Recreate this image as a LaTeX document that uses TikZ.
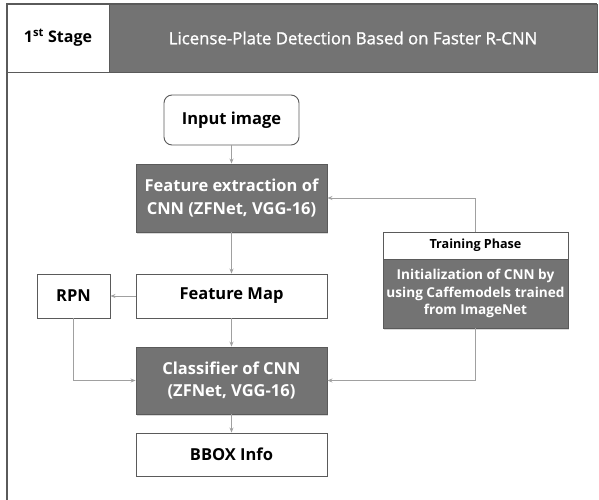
\documentclass[tikz,border=0pt]{standalone}
\usepackage{fontspec}
\setmainfont{Open Sans}
\newfontfamily\titlefont[FakeBold=1.2]{Open Sans}
\usetikzlibrary{shadows,arrows.meta}
\definecolor{boxgray}{RGB}{115,115,115}
\definecolor{edgegray}{RGB}{90,90,90}
\definecolor{linegray}{RGB}{160,160,160}
\begin{document}
\begin{tikzpicture}
            [
                x=1pt, y=-1pt,
                every node/.style = {shape=rectangle, draw=edgegray,
                line width=0.9pt, align=center, inner sep=2pt,
                font=\fontsize{16.5}{22.5}\selectfont\bfseries},
                lightbox/.style = {fill=white, minimum width=191pt},
                darkbox/.style  = {fill=boxgray, text=white, minimum width=191pt,
                drop shadow={shadow xshift=1pt, shadow yshift=-2pt, opacity=0.3}},
                link/.style     = {draw=linegray, line width=0.8pt,
                -{Stealth[length=5pt,width=4pt]}}
            ]
            \useasboundingbox (0,0) rectangle (599,500);
            % frame and header
            \draw[edgegray, line width=1.2pt] (7,500) -- (7,4) -- (597,4);
            \node[minimum width=102pt, minimum height=68pt, fill=white,
                font=\fontsize{16}{19}\selectfont\bfseries]
                (stage) at (58,38) {1\textsuperscript{st} Stage};
            \node[minimum width=488pt, minimum height=68pt, fill=boxgray, text=white,
                font=\fontsize{16.8}{19}\titlefont]
                (title) at (353,38) {License-Plate Detection Based on Faster R-CNN};
            % main flow
            \node[lightbox, minimum width=135pt, minimum height=50pt, rounded corners=8pt]
                (input) at (231.5,120) {Input image};
            \node[darkbox, minimum height=68pt] (feat) at (231.5,198)
                {Feature extraction of\\CNN (ZFNet, VGG-16)};
            \node[lightbox, minimum height=44pt] (map) at (231.5,296) {Feature Map};
            \node[lightbox, minimum width=73pt, minimum height=44pt] (rpn) at (73.5,296) {RPN};
            \node[darkbox, minimum height=67pt] (cls) at (231.5,380.5)
                {Classifier of CNN\\(ZFNet, VGG-16)};
            \node[lightbox, minimum height=43pt] (bbox) at (231.5,454.5) {BBOX Info};
            % training phase
            \node[fill=white, minimum width=185pt, minimum height=27pt,
                font=\fontsize{12.6}{14}\selectfont\bfseries]
                (train) at (475.5,245.5) {Training Phase};
            \node[darkbox, minimum width=185pt, minimum height=69pt,
                font=\fontsize{13.6}{17.5}\selectfont\bfseries]
                (init) at (475.5,293.5)
                {Initialization of CNN by\\using Caffemodels trained\\from ImageNet};
            % connectors
            \draw[link] (input) -- (feat);
            \draw[link] (feat) -- (map);
            \draw[link] (map) -- (rpn);
            \draw[link] (map) -- (cls);
            \draw[link] (cls) -- (bbox);
            \draw[link] (rpn.south) |- (cls.west);
            \draw[link] (train.north) |- (feat.east);
            \draw[link] (init.south) |- (cls.east);
        \end{tikzpicture}
\end{document}
